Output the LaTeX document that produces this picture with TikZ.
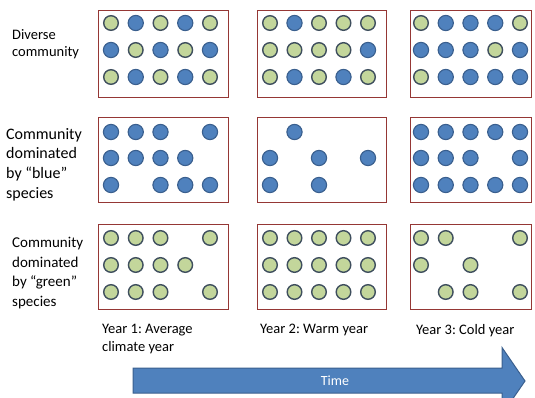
\documentclass[tikz,border=0pt]{standalone}
\usepackage{fontspec}
\setmainfont{Carlito}
\frenchspacing
\definecolor{bfill}{HTML}{4F81BD}
\definecolor{bline}{HTML}{3A5F8E}
\definecolor{gfill}{HTML}{C3D69B}
\definecolor{gline}{HTML}{3F4F5E}
\definecolor{boxred}{HTML}{953735}
\begin{document}
\begin{tikzpicture}[x=1pt,y=-1pt,
  panel/.style={draw=boxred,line width=1.4pt,inner sep=0pt,anchor=north west},
  bdot/.style={fill=bfill,draw=bline,line width=1.1pt},
  gdot/.style={fill=gfill,draw=gline,line width=1.4pt},
  lab/.style={font=\fontsize{14.5}{18}\selectfont,align=left,inner sep=0pt,anchor=north west},
  laba/.style={font=\fontsize{14.5}{17}\selectfont,align=left,inner sep=0pt,anchor=north west},
  labb/.style={font=\fontsize{16}{19.7}\selectfont,align=left,inner sep=0pt,anchor=north west},
  labc/.style={font=\fontsize{15}{19.7}\selectfont,align=left,inner sep=0pt,anchor=north west},
  arrowbody/.style={fill=bfill,draw=bline,line width=1pt},
]
\useasboundingbox (0,0) rectangle (535,398);
\clip (0,0) rectangle (535,398);

% panels
\node[panel,minimum width=130,minimum height=87] (p11) at (98,10) {};
\node[panel,minimum width=129,minimum height=87] (p12) at (257,10) {};
\node[panel,minimum width=121,minimum height=87] (p13) at (410,10) {};
\node[panel,minimum width=130,minimum height=85] (p21) at (98,117) {};
\node[panel,minimum width=129,minimum height=85] (p22) at (257,117) {};
\node[panel,minimum width=121,minimum height=85] (p23) at (410,117) {};
\node[panel,minimum width=130,minimum height=85] (p31) at (98,224) {};
\node[panel,minimum width=129,minimum height=85] (p32) at (257,224) {};
\node[panel,minimum width=121,minimum height=85] (p33) at (410,224) {};

% dots: 1 = blue, 2 = green, 0 = none
\foreach \xa/\dx/\yy/\pat in {
  111/24.75/23/{2,1,2,1,2}, 111/24.75/50/{1,2,1,2,1}, 111/24.75/77/{2,1,2,1,2},
  270/24.5/23/{2,1,2,2,2},  270/24.5/50/{2,2,2,2,1},  270/24.5/77/{2,1,2,1,2},
  421/24.75/23/{2,1,1,1,2}, 421/24.75/50/{1,1,1,2,1}, 421/24.75/77/{2,1,1,1,1},
  111/24.75/132/{1,1,1,0,1}, 111/24.75/158/{1,1,1,1,0}, 111/24.75/185/{1,0,1,1,1},
  270/24.5/132/{0,1,0,0,0},  270/24.5/158/{1,0,1,0,1},  270/24.5/185/{1,0,1,0,0},
  421/24.75/132/{1,1,1,1,1}, 421/24.75/158/{1,1,1,0,1}, 421/24.75/185/{1,1,1,1,1},
  111/24.75/238/{2,2,2,0,2}, 111/24.75/265/{2,2,2,2,0}, 111/24.75/292/{2,2,2,0,2},
  270/24.5/238/{2,2,2,2,2},  270/24.5/265/{2,2,2,2,2},  270/24.5/292/{2,2,2,2,2},
  421/24.75/238/{2,2,0,0,2}, 421/24.75/265/{2,0,2,0,0}, 421/24.75/292/{0,2,2,0,2}}{
  \foreach \c [count=\i from 0] in \pat {
    \ifcase\c\relax
    \or \draw[bdot] (\xa+\i*\dx,\yy) circle[radius=7.6];
    \or \draw[gdot] (\xa+\i*\dx,\yy) circle[radius=7.3];
    \fi
  }
}

% row labels
\node[laba] (l1) at (12,29.5) {Diverse\\community};
\node[labb] (l2) at (6,128) {Community\\dominated\\by “blue”\\species};
\node[labc] (l3) at (12,237) {Community\\dominated\\by “green”\\species};

% column labels
\node[lab] (y1) at (102,324) {Year 1: Average\\climate year};
\node[lab] (y2) at (260,324) {Year 2: Warm year};
\node[lab] (y3) at (416,324) {Year 3: Cold year};

% time arrow
\coordinate (ta) at (133,368);
\coordinate (tb) at (502,368);
\coordinate (tc) at (502,347.5);
\coordinate (tip) at (525,381);
\coordinate (td) at (502,414.5);
\coordinate (te) at (502,393);
\coordinate (tf) at (133,393);
\draw[arrowbody] (ta) -- (tb) -- (tc) -- (tip) -- (td) -- (te) -- (tf) -- cycle;
\node[text=white,font=\fontsize{14}{17}\selectfont] (time) at (335,380.5) {Time};
\end{tikzpicture}
\end{document}
